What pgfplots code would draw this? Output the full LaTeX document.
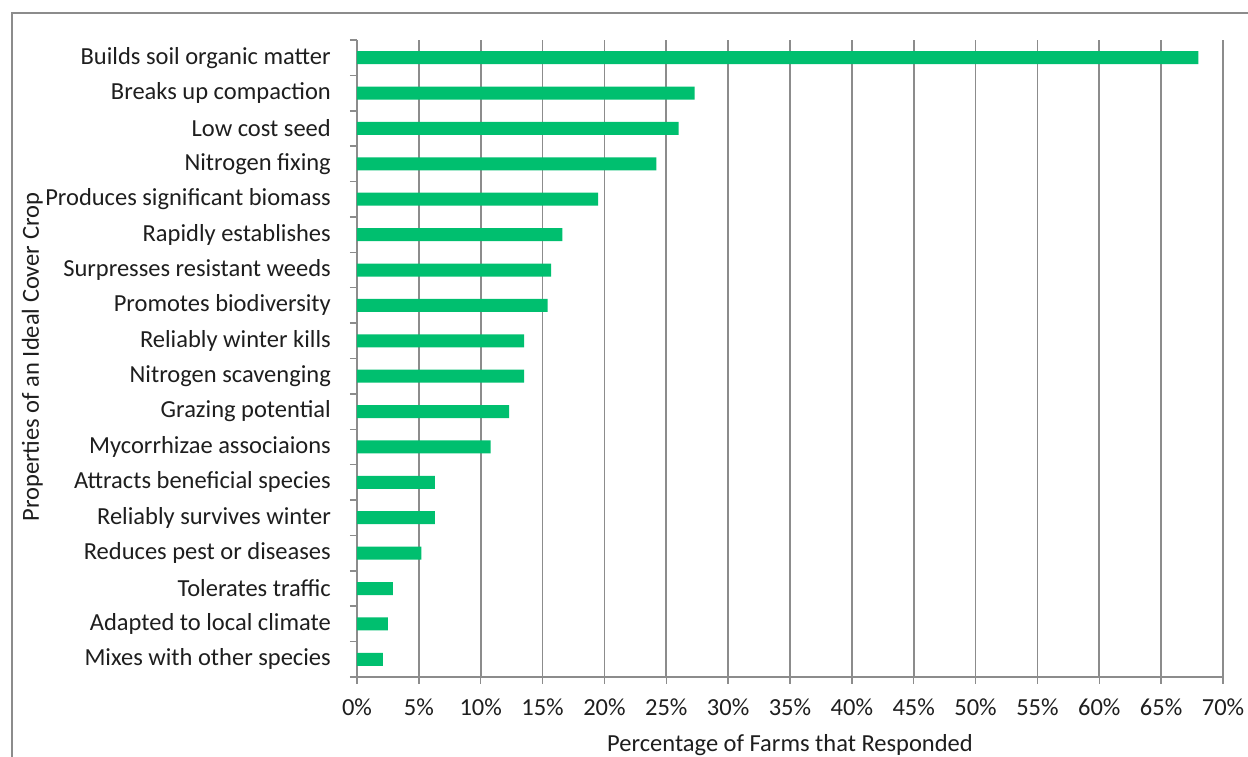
\documentclass[border=0pt]{standalone}
\usepackage{pgfplots}
\pgfplotsset{compat=1.18}
\usepackage{fontspec}
\setmainfont{Carlito}
\definecolor{barg}{RGB}{0,191,111}
\definecolor{gridg}{RGB}{140,140,140}
\definecolor{txt}{RGB}{30,30,30}
\begin{document}
\begin{tikzpicture}[x=1pt,y=1pt]
\path[use as bounding box] (0,0) rectangle (1248,757);
\draw[gridg, line width=2pt] (12,0) -- (12,744) -- (1248,744);
\begin{axis}[
  at={(357pt,80pt)}, anchor=south west,
  scale only axis, width=866pt, height=637pt,
  xmin=0, xmax=70, ymin=0.5, ymax=18.5,
  axis x line*=bottom, axis y line*=left,
  axis line style={gridg, line width=1.5pt},
  xtick={0,5,...,70},
  xticklabel={\pgfmathprintnumber{\tick}\%},
  /pgf/number format/assume math mode=true,
  xmajorgrids, major grid style={gridg, line width=1.8pt},
  ytick={1,...,18},
  yticklabels={Mixes with other species,Adapted to local climate,Tolerates traffic,Reduces pest or diseases,Reliably survives winter,Attracts beneficial species,Mycorrhizae associaions,Grazing potential,Nitrogen scavenging,Reliably winter kills,Promotes biodiversity,Surpresses resistant weeds,Rapidly establishes,Produces significant biomass,Nitrogen fixing,Low cost seed,Breaks up compaction,Builds soil organic matter},
  minor ytick={0.5,1.5,...,18.5},
  y tick style={draw=none},
  minor y tick style={draw=gridg, line width=1.5pt},
  x tick style={draw=gridg, line width=1.5pt},
  tick align=outside,
  major tick length=7pt, minor tick length=7pt,
  tick label style={font=\fontsize{24.5}{28}\selectfont, text=txt},
  yticklabel style={anchor=east, inner sep=0pt, xshift=-19pt},
  xticklabel style={anchor=base, inner sep=0pt, yshift=-32pt},
  label style={font=\fontsize{24.5}{28}\selectfont, text=txt},
  xlabel={Percentage of Farms that Responded},
  ylabel={Properties of an Ideal Cover Crop},
  xlabel style={at={(rel axis cs:0.5,-0.107)}, anchor=center},
  ylabel style={at={(rel axis cs:-0.375,0.502)}, anchor=center},
  clip=false,
]
\addplot[xbar, bar width=13pt, fill=barg, draw=none] coordinates {
(2.1,1) (2.5,2) (2.9,3) (5.2,4) (6.3,5) (6.3,6) (10.8,7) (12.3,8) (13.5,9) (13.5,10) (15.4,11) (15.7,12) (16.6,13) (19.5,14) (24.2,15) (26.0,16) (27.3,17) (68.0,18)
};
\end{axis}
\end{tikzpicture}
\end{document}
